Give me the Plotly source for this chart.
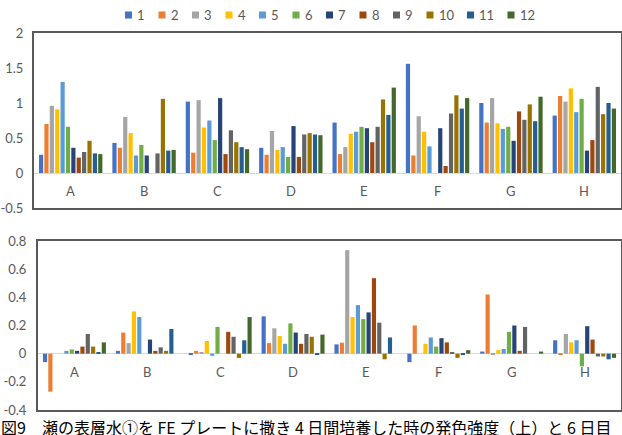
import plotly.graph_objects as go

categories = ["A", "B", "C", "D", "E", "F", "G", "H"]
series_names = ["1", "2", "3", "4", "5", "6", "7", "8", "9", "10", "11", "12"]
colors = ["#4472C4", "#ED7D31", "#A5A5A5", "#FFC000", "#5B9BD5", "#70AD47",
          "#264478", "#9E480E", "#636363", "#997300", "#255E91", "#43682B"]

# upper chart (4 days)
top_s1 = [0.26, 0.43, 1.02, 0.36, 0.72, 1.56, 1.00, 0.82]
top_s2 = [0.70, 0.36, 0.29, 0.26, 0.27, 0.25, 0.72, 1.10]
top_s3 = [0.96, 0.80, 1.04, 0.60, 0.37, 0.81, 1.07, 1.02]
top_s4 = [0.91, 0.57, 0.65, 0.33, 0.56, 0.59, 0.71, 1.21]
top_s5 = [1.30, 0.25, 0.75, 0.37, 0.59, 0.38, 0.63, 0.87]
top_s6 = [0.66, 0.40, 0.47, 0.23, 0.66, None, 0.66, 1.06]
top_s7 = [0.36, 0.25, 1.07, 0.67, 0.64, 0.64, 0.46, 0.32]
top_s8 = [0.22, None, 0.27, 0.23, 0.44, 0.10, 0.88, 0.47]
top_s9 = [0.30, 0.28, 0.61, 0.55, 0.66, 0.85, 0.76, 1.23]
top_s10 = [0.46, 1.06, 0.44, 0.57, 1.05, 1.11, 0.98, 0.84]
top_s11 = [0.28, 0.32, 0.37, 0.55, 0.83, 0.92, 0.74, 1.00]
top_s12 = [0.27, 0.33, 0.34, 0.54, 1.22, 1.07, 1.09, 0.92]

# lower chart (day 6)
bot_s1 = [-0.06, 0.02, -0.01, 0.265, 0.066, -0.06, 0.015, 0.095]
bot_s2 = [-0.27, 0.15, 0.02, 0.075, 0.078, 0.20, 0.42, -0.01]
bot_s3 = [0.0, 0.075, 0.01, 0.18, 0.735, 0.0, -0.01, 0.14]
bot_s4 = [0.0, 0.30, 0.09, 0.125, 0.26, 0.07, 0.025, 0.08]
bot_s5 = [0.02, 0.26, -0.015, 0.07, 0.345, 0.115, 0.033, 0.095]
bot_s6 = [0.03, 0.0, 0.19, 0.215, 0.245, 0.05, 0.155, -0.09]
bot_s7 = [0.02, 0.10, 0.0, 0.15, 0.293, 0.11, 0.20, 0.195]
bot_s8 = [0.05, 0.02, 0.155, 0.07, 0.536, 0.08, 0.02, 0.10]
bot_s9 = [0.14, 0.045, 0.12, 0.14, 0.22, 0.01, 0.19, -0.02]
bot_s10 = [0.05, 0.02, -0.03, 0.12, -0.04, -0.03, 0.0, -0.02]
bot_s11 = [0.01, 0.175, 0.095, -0.005, 0.115, -0.01, 0.0, -0.04]
bot_s12 = [0.08, 0.0, 0.26, 0.135, 0.0, 0.025, 0.015, -0.03]

top_ticks = [-0.5, 0, 0.5, 1, 1.5, 2]
top_ticktext = ["-0.5", "0", "0.5", "1", "1.5", "2"]
bot_ticks = [-0.4, -0.2, 0, 0.2, 0.4, 0.6, 0.8]
bot_ticktext = ["-0.4", "-0.2", "0", "0.2", "0.4", "0.6", "0.8"]

caption = "図9　瀬の表層水①を FE プレートに撒き 4 日間培養した時の発色強度（上）と 6 日目"

top_series = [top_s1, top_s2, top_s3, top_s4, top_s5, top_s6,
              top_s7, top_s8, top_s9, top_s10, top_s11, top_s12]
bot_series = [bot_s1, bot_s2, bot_s3, bot_s4, bot_s5, bot_s6,
              bot_s7, bot_s8, bot_s9, bot_s10, bot_s11, bot_s12]

W, H = 622, 435
TXT = "#595959"
FONT = "Lato"

fig = go.Figure()
for name, col, tv, bv in zip(series_names, colors, top_series, bot_series):
    fig.add_trace(go.Bar(x=categories, y=tv, name=name, marker_color=col,
                         marker_line_width=0, xaxis="x", yaxis="y",
                         showlegend=False))
    fig.add_trace(go.Bar(x=categories, y=bv, name=name, marker_color=col,
                         marker_line_width=0, xaxis="x2", yaxis="y2",
                         showlegend=False))

def px_x(p):
    return p / W

def px_y(p):
    return 1 - p / H

axis_common = dict(showline=True, mirror=True, linecolor="#5a5a5a", linewidth=2,
                   showgrid=False, ticks="", fixedrange=True)

fig.update_layout(
    width=W, height=H,
    margin=dict(l=0, r=0, t=0, b=0),
    template="none",
    paper_bgcolor="white", plot_bgcolor="white",
    barmode="group", bargap=0.12, bargroupgap=0.22,
    font=dict(family=FONT, size=13, color=TXT),
    xaxis=dict(domain=[px_x(34), px_x(621)], anchor="y", showticklabels=False,
               range=[-0.5, 7.5], zeroline=False, automargin=False, **axis_common),
    yaxis=dict(domain=[px_y(208), px_y(33)], anchor="x", range=[-0.5, 2],
               tickvals=top_ticks, ticktext=top_ticktext, zeroline=True,
               zerolinecolor="#D9D9D9", zerolinewidth=1, automargin=False,
               ticklabelstandoff=6, tickfont=dict(size=13, color=TXT, family=FONT),
               **axis_common),
    xaxis2=dict(domain=[px_x(38), px_x(621)], anchor="y2", showticklabels=False,
                range=[-0.5, 7.5], zeroline=False, automargin=False, **axis_common),
    yaxis2=dict(domain=[px_y(410), px_y(241)], anchor="x2", range=[-0.4, 0.8],
                tickvals=bot_ticks, ticktext=bot_ticktext, zeroline=True,
                zerolinecolor="#D9D9D9", zerolinewidth=1, automargin=False,
                ticklabelstandoff=7, tickfont=dict(size=13, color=TXT, family=FONT),
                **axis_common),
)

annotations = []
# category labels just below the zero line
for cat in categories:
    annotations.append(dict(x=cat, y=0, xref="x", yref="y", text=cat, showarrow=False,
                            yshift=-18, font=dict(size=13, color=TXT, family=FONT)))
    annotations.append(dict(x=cat, y=0, xref="x2", yref="y2", text=cat, showarrow=False,
                            yshift=-18, font=dict(size=13, color=TXT, family=FONT)))

# manual legend at top
shapes = []
lx = 125.0
ly = 15.0
for name, col in zip(series_names, colors):
    shapes.append(dict(type="rect", xref="paper", yref="paper",
                       x0=px_x(lx), x1=px_x(lx + 7), y0=px_y(ly + 3.5), y1=px_y(ly - 3.5),
                       fillcolor=col, line_width=0))
    annotations.append(dict(x=px_x(lx + 10), y=px_y(ly), xref="paper", yref="paper",
                            text=name, showarrow=False, xanchor="left", yanchor="middle",
                            font=dict(size=13, color=TXT, family=FONT)))
    lx += 26.5 + 7 * len(name)

# caption along the bottom edge
annotations.append(dict(x=0, y=px_y(427), xref="paper", yref="paper", text=caption,
                        showarrow=False, xanchor="left", yanchor="middle", xshift=0,
                        borderpad=0,
                        font=dict(size=16, color="black", family="Noto Sans CJK JP")))

fig.update_layout(annotations=annotations, shapes=shapes)

fig.write_html("out.html")
